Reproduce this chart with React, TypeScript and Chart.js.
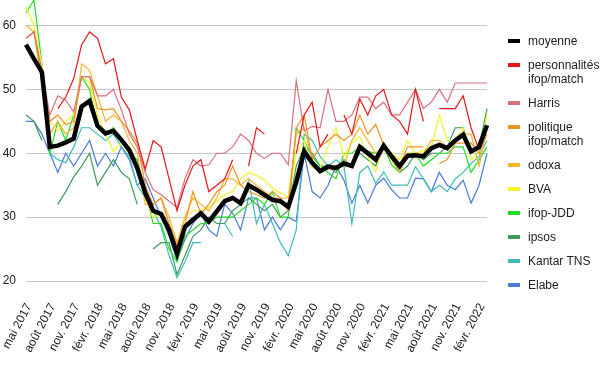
import React, { useEffect, useRef } from 'react';
import { Chart, registerables } from 'chart.js';

Chart.register(...registerables);

// ---- categories (monthly, May 2017 -> March 2022) ----
const MONTH_NAMES = ['janv.', 'févr.', 'mars', 'avr.', 'mai', 'juin', 'juil.', 'août', 'sept.', 'oct.', 'nov.', 'déc.'];
const FIRST_YEAR = 2017;
const FIRST_MONTH = 4; // mai
const MONTH_COUNT = 59;
const categories: string[] = Array.from({ length: MONTH_COUNT }, (_, i) => {
  const k = FIRST_MONTH + i;
  return `${MONTH_NAMES[k % 12]} ${FIRST_YEAR + Math.floor(k / 12)}`;
});

const Y_TICKS = [20, 30, 40, 50, 60];

// ---- series ----
const moyenne = [57, 54.8, 52.7, 41, 41.2, 41.7, 42.3, 47.3, 48.2, 44.3, 43.1, 43.5, 42.1, 40.5, 37.7, 33.8, 31, 30.5, 28, 24.3, 28.5, 29.6, 30.6, 29.3, 30.9, 32.5, 33, 32.2, 35, 34.3, 33.5, 32.7, 32.5, 31.6, 35.5, 40.3, 38.5, 37.2, 37.9, 37.7, 38.4, 38, 41, 40, 39, 41.2, 39.5, 38, 39.6, 39.7, 39.5, 40.8, 41.3, 40.8, 42, 42.9, 40.3, 41, 44.4];

const personnalites = [null, null, null, null, 47, 48.8, 51.7, 57, 59, 58, 54, 54.8, 48.8, 46.8, 42, 37.5, 42, 41, 36, 31, 35, 38, 39, 34, 35, 36, 39, null, 38, 44, 43, null, null, null, 40, 46, 48, 41, 43, null, 46, 43, 48.5, 46, 49, 50, 46, 45, 43, 50, 45, null, 47, 47, 47, 49, 44, 40.5, null];

const harris = [58, 59, 53, 46, 49, 48.3, 46.5, 52, 52, 49, 49, 50, 46.8, 43, 41, 37, 34.3, 33.5, 32.5, 31.5, 36, 39, 38, 38.2, 40, 40, 41, 43, 42, 40, 39.2, 40, 40, 38.2, 51.4, 43.5, 44.2, 44, 50, 45, 45, 46, 48.8, 48.8, 47, 48, 46, 46, 48, 50, 47, 48, 50, 48, 51, 51, 51, 51, 51];

const politique = [58, 59, 52, 45, 46, 44.5, 45, 52, 52, 47, 46.8, 47, 45, 43.5, 41.6, 35, 32, 33, 29, 25.5, 29, 34, 30.5, 32, 34, 35, 38, 35, 34, 33.5, 33, 34, 33, 31, 44, 46, 39, 41, 42, 43, 42, 43, 46, 43, 44.5, 41.3, 39.2, 38, 41, 41, 41, null, 38.4, 39, 41.6, 41.6, 41.6, 40, 43];

const odoxa = [60, 59, 51, 43, 45, 43, 44, 54, 53, 49, 45, 46, 45, 42, 40, 32, 32, 33, 30, 26, 30, 33, 32, 31, 33, 36, 36, 35, 36, 35, 34, 33, 33, 33, 43, 44, 39, 37, 38, 38, 38, 42, 44, 42, 40, 41, 39, 37, 40, 40, 40, 42, 42, 41, 42, 43, 43, 38, 44];

const bva = [63, 60, 54, 45, 43.5, 45, 46, 52, 51, 46, 43, 40.3, 41.6, 41, 38, 33, 30, 30.5, 28, 26, 30, 31, 31, 31.5, 32.5, 33.5, 34, 36, 37, 36.5, 35.8, 34.5, 33.8, 33.2, 40, 42, 37.7, 37.7, 41, 44, 39.5, 41.6, 42.6, 39.5, 37.1, 41.6, 40, 39, 42, 40, 40.5, 41, 46, 42, 42, 44, 39, 40, 46];

const ifopJdd = [62, 64, 54, 40, 45, 42, 46, 52, 50, 44, 43, 44, 42, 40, 39, 34, 29, 29, 25, 23, 27, 28, 29, 29, 30, 30, 30, 31, 32, 33, 32, 34, 30, 30, 44, 42, 39.5, 38, 37, 36, 40, 40, 41, 40.3, 40, 41, 38.2, 37, 40, 40, 38, 39, 40, 40, 41, 41, 37, 39, 41];

const ipsos = [46, 45, 42, null, 32, 34, 36.3, 38, 40, 35, 37, 39, 37, 36, 32, null, 25, 26, 26, 21, 24, 27, 28, 30, 29, 29, 31, 32, 33, 32, 31, 32, 30, 31, 38, 41, 40, 38, 38, 37, 39, 38, 40, 39, 38, 41, 40, 37, 38, 40, 39, 40, 40, 41, 44, 44, 40, 41, 47];

const kantar = [null, null, null, 40, 39, 38.5, 41, 44, 44, 43, 42, 43, 41, 39.5, 35, 33, 31, 28.5, 24, 20.5, 23, 26, 26, null, null, 29, 27, null, 36, 29, 32, 29, 26, 24, 28, 43, 42, 39.5, 38, 39, 38, 29, 37, 38, 35.3, 37.1, 35, 35, 35, 37.9, 36, 34, 35, 34, 36, 37, 38.4, 39.5, 42];

const elabe = [45, 45, 43, 40, 37, 40, 38, 40, 42, 38, 40, 38, 41, 39, 35, 36, 33, 30, 27, 23.3, 26.5, 29, 30.6, 28, 27, 32, 30.6, 28, 33, 33, 28, 30, 28, 30, 29.3, 40, 34, 33, 35, 38, 35.8, 32.2, 35, 32.2, 35, 36.1, 34.3, 33, 33, 36.1, 36, 34, 37, 35, 34.3, 35.8, 32.2, 35, 40];

const FONT = "'Liberation Sans', Arial, Helvetica, sans-serif";

const SERIES = [
  { label: ['moyenne'], data: moyenne, color: '#000000', width: 4.5 },
  { label: ['personnalités', 'ifop/match'], data: personnalites, color: '#e8161b', width: 1.2 },
  { label: ['Harris'], data: harris, color: '#d8707e', width: 1.2 },
  { label: ['politique', 'ifop/match'], data: politique, color: '#ee9322', width: 1.2 },
  { label: ['odoxa'], data: odoxa, color: '#f7b52c', width: 1.2 },
  { label: ['BVA'], data: bva, color: '#f6f22a', width: 1.2 },
  { label: ['ifop-JDD'], data: ifopJdd, color: '#22dd22', width: 1.2 },
  { label: ['ipsos'], data: ipsos, color: '#3c9a5c', width: 1.2 },
  { label: ['Kantar TNS'], data: kantar, color: '#3ebcbc', width: 1.2 },
  { label: ['Elabe'], data: elabe, color: '#4a7bd8', width: 1.2 },
];

export default function App() {
  const canvasRef = useRef<HTMLCanvasElement | null>(null);

  useEffect(() => {
    document.body.style.margin = '0';
    const canvas = canvasRef.current;
    if (!canvas) return;
    const chart = new Chart(canvas, {
      type: 'line',
      data: {
        labels: categories,
        datasets: SERIES.map((s) => ({
          label: s.label.join(' '),
          data: s.data as (number | null)[],
          borderColor: s.color,
          backgroundColor: s.color,
          borderWidth: s.width,
          pointRadius: 0,
          tension: 0,
          spanGaps: false,
          fill: false,
          clip: false as any,
        })),
      },
      options: {
        responsive: false,
        animation: false,
        layout: { padding: { left: 2, right: 123, top: 0, bottom: 6 } },
        plugins: { legend: { display: false }, tooltip: { enabled: false } },
        scales: {
          x: {
            type: 'category',
            offset: false,
            grid: { display: false, drawTicks: false },
            border: { display: false },
            ticks: {
              autoSkip: false,
              minRotation: 62,
              maxRotation: 62,
              padding: 20,
              labelOffset: 3,
              color: '#222',
              font: { family: FONT, size: 12 },
              callback: function (this: any, v: any, i: number) {
                return i % 3 === 0 ? this.getLabelForValue(v) : '';
              },
            },
            afterFit: (axis: any) => {
              axis.paddingLeft = 0;
              axis.paddingRight = 0;
              axis.height = 90;
            },
          },
          y: {
            min: 20,
            max: 64,
            grid: { color: '#c8c8c8', drawTicks: false, lineWidth: 1 },
            border: { display: false },
            ticks: {
              stepSize: 10,
              padding: 10,
              color: '#222',
              font: { family: FONT, size: 12 },
            },
            afterBuildTicks: (axis: any) => {
              axis.ticks = Y_TICKS.map((v) => ({ value: v }));
            },
            afterFit: (axis: any) => {
              axis.paddingTop = 0;
              axis.width = 24;
            },
          },
        },
      },
    });
    return () => chart.destroy();
  }, []);

  let top = 34;
  const items = SERIES.map((s, idx) => {
    const t = top;
    top += s.label.length * 14 + 10;
    return (
      <div key={idx} style={{ position: 'absolute', left: 508, top: t, display: 'flex', alignItems: 'flex-start' }}>
        <div style={{ width: 12, height: 4, marginTop: 5, background: s.color, flex: 'none' }} />
        <div style={{ marginLeft: 8, fontFamily: FONT, fontSize: 12, lineHeight: '14px', color: '#222', whiteSpace: 'nowrap' }}>
          {s.label.map((l, j) => (
            <div key={j}>{l}</div>
          ))}
        </div>
      </div>
    );
  });

  return (
    <div style={{ position: 'relative', width: 610, height: 377, background: '#fff', overflow: 'hidden' }}>
      <canvas ref={canvasRef} width={610} height={377} style={{ width: 610, height: 377, display: 'block' }} />
      {items}
    </div>
  );
}
